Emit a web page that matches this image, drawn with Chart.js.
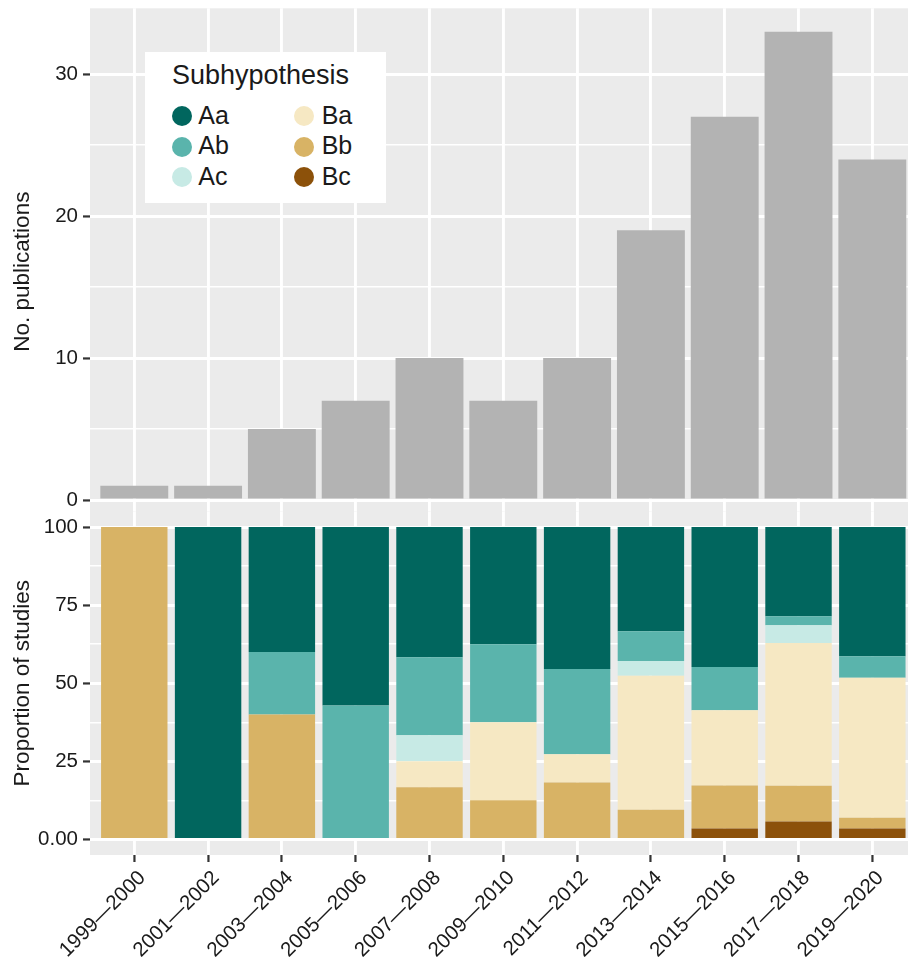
<!DOCTYPE html>
<html>
<head>
<meta charset="utf-8">
<script src="https://cdn.jsdelivr.net/npm/chart.js@4.4.1/dist/chart.umd.min.js"></script>
<style>
  html, body { margin: 0; padding: 0; background: #ffffff; overflow: hidden; }
  #wrap { position: relative; width: 908px; height: 961px; overflow: hidden; }
  #wrap canvas { position: absolute; left: 0; top: 0; }
  #legend {
    position: absolute; left: 145px; top: 52px; width: 241px; height: 151px;
    background: #ffffff; font-family: "Liberation Sans", Arial, Helvetica, sans-serif; color: #1a1a1a;
  }
  #legend .ttl { position: absolute; left: 27px; top: 10px; font-size: 27px; line-height: 27px; white-space: nowrap; }
  #legend .dot { position: absolute; width: 20px; height: 20px; border-radius: 50%; }
  #legend .lab { position: absolute; font-size: 25px; line-height: 25px; white-space: nowrap; }
</style>
</head>
<body>
<div id="wrap">
  <canvas id="countChart" width="1000" height="961"></canvas>
  <canvas id="shareChart" width="1000" height="961"></canvas>
  <div id="legend"><div class="ttl">Subhypothesis</div></div>
</div>
<script>
// Two-year publication periods
const periods = [
  '1999\u20142000', '2001\u20142002', '2003\u20142004', '2005\u20142006',
  '2007\u20142008', '2009\u20142010', '2011\u20142012', '2013\u20142014',
  '2015\u20142016', '2017\u20142018', '2019\u20142020'
];

// Number of publications per period
const publications = [1, 1, 5, 7, 10, 7, 10, 19, 27, 33, 24];

// Share of studies (%) supporting each subhypothesis per period
const shareAa = [0, 100, 40, 57.14, 41.67, 37.5, 45.45, 33.33, 44.83, 28.57, 41.38];
const shareAb = [0, 0, 20, 42.86, 25, 25, 27.27, 9.52, 13.79, 2.86, 6.9];
const shareAc = [0, 0, 0, 0, 8.33, 0, 0, 4.76, 0, 5.71, 0];
const shareBa = [0, 0, 0, 0, 8.33, 25, 9.09, 42.86, 24.14, 45.71, 44.83];
const shareBb = [100, 0, 40, 0, 16.67, 12.5, 18.18, 9.52, 13.79, 11.43, 3.45];
const shareBc = [0, 0, 0, 0, 0, 0, 0, 0, 3.45, 5.71, 3.45];

// Tick marks of the two value axes
const countTicks = [0, 10, 20, 30];
const shareTicks = [0, 25, 50, 75, 100];
const shareTickLabels = ['0.00', '25', '50', '75', '100'];

// Subhypothesis names and their colours (BrBG)
const subNames = ['Aa', 'Ab', 'Ac', 'Ba', 'Bb', 'Bc'];
const subColors = ['#01665E', '#5AB4AC', '#C7EAE5', '#F6E8C3', '#D8B365', '#8C510A'];
const subShares = [shareAa, shareAb, shareAc, shareBa, shareBb, shareBc];

const FONT = '"Liberation Sans", Arial, Helvetica, sans-serif';
const TEXT = '#1a1a1a';
const PANEL = '#EBEBEB';
const MAJOR_W = 2.9, MINOR_W = 1.45;
const RIGHT_PAD = 83.4;

// grey panel behind the plotting area
const panelBg = {
  id: 'panelBg',
  beforeDraw(chart) {
    const { ctx, chartArea: a } = chart;
    ctx.save();
    ctx.fillStyle = PANEL;
    ctx.fillRect(a.left, a.top, a.right - a.left, a.bottom - a.top);
    ctx.restore();
  }
};

function xScale(showLabels) {
  return {
    type: 'linear',
    min: -0.6,
    max: 10.6,
    offset: false,
    stacked: true,
    border: { display: false },
    grid: {
      offset: false,
      color: '#ffffff',
      lineWidth: MAJOR_W,
      drawTicks: showLabels,
      tickLength: 7,
      tickColor: '#333333',
      tickWidth: 2.2
    },
    ticks: {
      display: showLabels,
      stepSize: 1,
      includeBounds: false,
      autoSkip: false,
      maxRotation: 45,
      minRotation: 45,
      padding: 4,
      labelOffset: 8,
      color: TEXT,
      font: { family: FONT, size: 20.5 },
      callback: (v) => (periods[v] !== undefined ? periods[v] : '')
    },
    afterFit(scale) {
      scale.height = showLabels ? 106 : 0;
      scale.paddingLeft = 0;
      scale.paddingRight = 0;
    }
  };
}

function yScale(opts) {
  return {
    type: 'linear',
    min: opts.min,
    max: opts.max,
    stacked: opts.stacked,
    border: { display: false },
    title: {
      display: true,
      text: opts.title,
      color: TEXT,
      font: { family: FONT, size: 22.5 },
      padding: { top: 9, bottom: 0 }
    },
    grid: {
      color: '#ffffff',
      lineWidth: (c) => (c.tick && opts.major.includes(c.tick.value) ? MAJOR_W : MINOR_W),
      tickLength: 7,
      tickWidth: 2.2,
      tickColor: (c) => (c.tick && opts.major.includes(c.tick.value) ? '#333333' : 'rgba(0,0,0,0)')
    },
    ticks: {
      stepSize: opts.step,
      includeBounds: false,
      padding: 5,
      color: TEXT,
      font: { family: FONT, size: 20.5 },
      callback: (v) => {
        const i = opts.major.indexOf(v);
        return i >= 0 ? opts.labels[i] : '';
      }
    },
    afterFit(scale) {
      scale.width = 90;
      scale.paddingTop = 0;
      scale.paddingBottom = 0;
    }
  };
}

// Upper panel: publication counts
new Chart(document.getElementById('countChart'), {
  type: 'bar',
  data: {
    datasets: [{
      label: 'No. publications',
      data: publications.map((v, i) => ({ x: i, y: v })),
      backgroundColor: '#B3B3B3',
      borderWidth: 0,
      barPercentage: 0.92,
      categoryPercentage: 1
    }]
  },
  options: {
    responsive: false,
    animation: false,
    devicePixelRatio: 1,
    layout: { padding: { top: 8.3, bottom: 426, left: 0, right: RIGHT_PAD } },
    plugins: { legend: { display: false }, tooltip: { enabled: false } },
    scales: {
      x: xScale(false),
      y: yScale({ min: -2.47, max: 34.65, step: 5, stacked: false, title: 'No. publications',
                  major: countTicks, labels: countTicks.map(String) })
    }
  },
  plugins: [panelBg]
});

// Lower panel: proportion of studies by subhypothesis (stacked from Bc up to Aa)
const order = [5, 4, 3, 2, 1, 0];
new Chart(document.getElementById('shareChart'), {
  type: 'bar',
  data: {
    datasets: order.map((k) => ({
      label: subNames[k],
      data: subShares[k].map((v, i) => ({ x: i, y: v })),
      backgroundColor: subColors[k],
      borderWidth: 0,
      barPercentage: 0.9,
      categoryPercentage: 1
    }))
  },
  options: {
    responsive: false,
    animation: false,
    devicePixelRatio: 1,
    layout: { padding: { top: 511.4, bottom: 0, left: 0, right: RIGHT_PAD } },
    plugins: { legend: { display: false }, tooltip: { enabled: false } },
    scales: {
      x: xScale(true),
      y: yScale({ min: -5, max: 105, step: 12.5, stacked: true, title: 'Proportion of studies',
                  major: shareTicks, labels: shareTickLabels })
    }
  },
  plugins: [panelBg]
});

// Legend: two columns of three keys
const legend = document.getElementById('legend');
subNames.forEach((name, k) => {
  const col = Math.floor(k / 3), row = k % 3;
  const dot = document.createElement('div');
  dot.className = 'dot';
  dot.style.background = subColors[k];
  dot.style.left = (col ? 148.7 : 26.7) + 'px';
  dot.style.top = (54 + row * 30.5) + 'px';
  legend.appendChild(dot);
  const lab = document.createElement('div');
  lab.className = 'lab';
  lab.textContent = name;
  lab.style.left = (col ? 176.7 : 53.3) + 'px';
  lab.style.top = (50.8 + row * 30.5) + 'px';
  legend.appendChild(lab);
});
</script>
</body>
</html>
